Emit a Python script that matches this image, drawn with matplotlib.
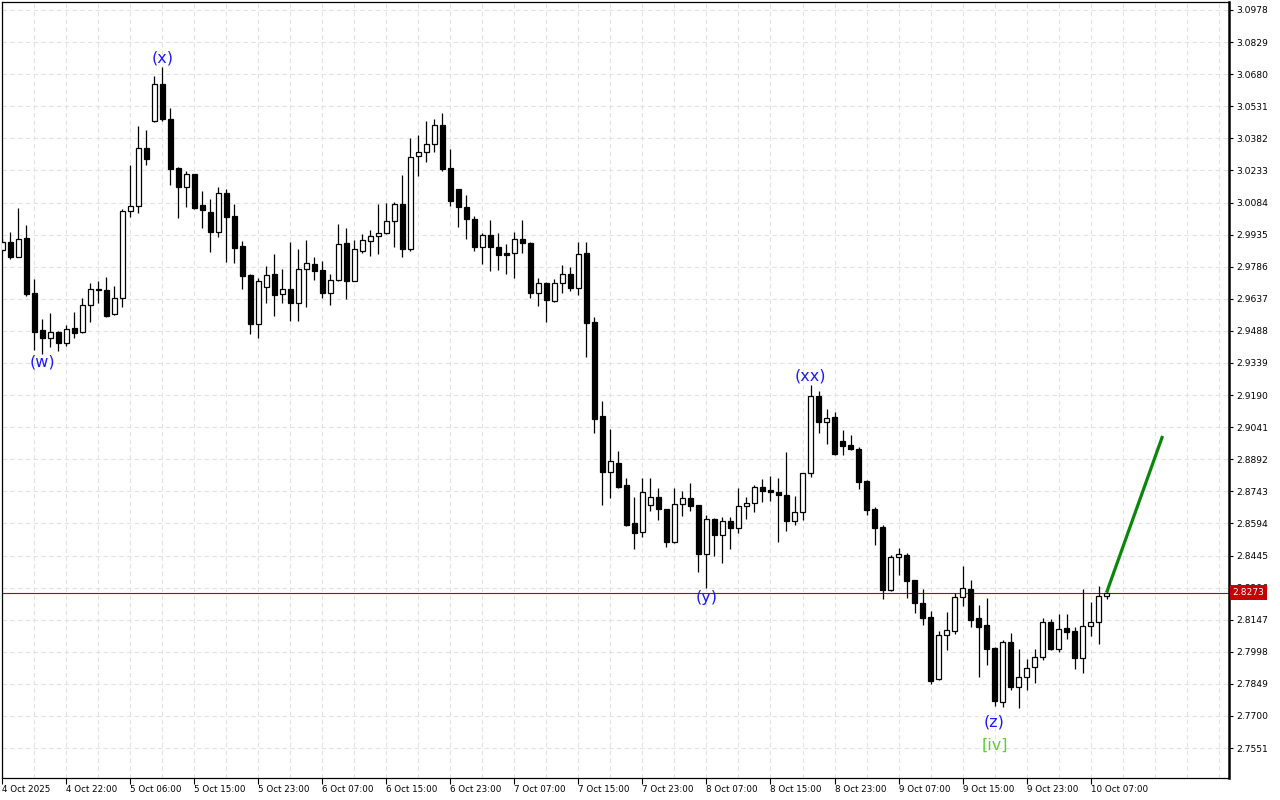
import numpy as np
import matplotlib
matplotlib.use('Agg')
import matplotlib.pyplot as plt
import matplotlib.transforms as mtransforms

# Harga per jam (open, high, low, close)
opens = [2.9864, 2.9899, 2.9832, 2.9918, 2.9663, 2.9491, 2.9454, 2.9481, 2.9430, 2.9501,
         2.9481, 2.9607, 2.9684, 2.9678, 2.9565, 2.9639, 3.0043, 3.0068, 3.0336, 3.0464,
         3.0633, 3.0471, 3.0244, 3.0155, 3.0215, 3.0071, 3.0039, 2.9949, 3.0127, 3.0022,
         2.9882, 2.9748, 2.9520, 2.9690, 2.9752, 2.9658, 2.9681, 2.9616, 2.9774, 2.9797,
         2.9769, 2.9665, 2.9723, 2.9895, 2.9721, 2.9860, 2.9904, 2.9927, 2.9941, 2.9997,
         3.0076, 2.9867, 3.0299, 3.0317, 3.0354, 3.0443, 3.0243, 3.0145, 3.0063, 3.0008,
         2.9879, 2.9933, 2.9878, 2.9850, 2.9848, 2.9913, 2.9895, 2.9665, 2.9710, 2.9628,
         2.9709, 2.9751, 2.9686, 2.9848, 2.9528, 2.9091, 2.8834, 2.8873, 2.8771, 2.8595,
         2.8556, 2.8678, 2.8717, 2.8660, 2.8509, 2.8683, 2.8711, 2.8678, 2.8453, 2.8613,
         2.8542, 2.8605, 2.8571, 2.8673, 2.8687, 2.8762, 2.8749, 2.8740, 2.8726, 2.8607,
         2.8648, 2.8827, 2.9186, 2.9066, 2.9087, 2.8977, 2.8958, 2.8940, 2.8791, 2.8661,
         2.8576, 2.8285, 2.8438, 2.8447, 2.8331, 2.8226, 2.8158, 2.7870, 2.8077, 2.8096,
         2.8251, 2.8290, 2.8156, 2.8122, 2.8016, 2.7766, 2.8043, 2.7836, 2.7879, 2.7929,
         2.7975, 2.8135, 2.8012, 2.8107, 2.8093, 2.7968, 2.8116, 2.8135, 2.8256]
highs = [2.9919, 2.9946, 3.0057, 2.9978, 2.9728, 2.9542, 2.9570, 2.9488, 2.9514, 2.9576,
         2.9642, 2.9709, 2.9720, 2.9737, 2.9695, 3.0054, 3.0258, 3.0439, 3.0421, 3.0672,
         3.0712, 3.0522, 3.0250, 3.0230, 3.0218, 3.0139, 3.0099, 3.0156, 3.0145, 3.0077,
         2.9905, 2.9750, 2.9734, 2.9789, 2.9845, 2.9775, 2.9899, 2.9868, 2.9910, 2.9831,
         2.9813, 2.9752, 2.9984, 2.9966, 2.9910, 2.9937, 2.9955, 3.0077, 3.0082, 3.0086,
         3.0212, 3.0382, 3.0398, 3.0463, 3.0472, 3.0500, 3.0333, 3.0147, 3.0118, 3.0020,
         2.9943, 3.0003, 2.9943, 2.9891, 2.9947, 3.0003, 2.9899, 2.9732, 2.9714, 2.9728,
         2.9794, 2.9783, 2.9899, 2.9899, 2.9551, 2.9162, 2.9032, 2.8930, 2.8804, 2.8717,
         2.8804, 2.8804, 2.8757, 2.8662, 2.8757, 2.8746, 2.8782, 2.8680, 2.8634, 2.8618,
         2.8624, 2.8622, 2.8757, 2.8718, 2.8772, 2.8800, 2.8814, 2.8804, 2.8926, 2.8721,
         2.8829, 2.9237, 2.9210, 2.9124, 2.9110, 2.9028, 2.9005, 2.8947, 2.8796, 2.8672,
         2.8588, 2.8447, 2.8480, 2.8458, 2.8333, 2.8288, 2.8187, 2.8096, 2.8181, 2.8272,
         2.8396, 2.8331, 2.8215, 2.8246, 2.8018, 2.8051, 2.8087, 2.8011, 2.7964, 2.8010,
         2.8153, 2.8149, 2.8173, 2.8173, 2.8112, 2.8288, 2.8228, 2.8303, 2.8285]
lows = [2.9854, 2.9820, 2.9830, 2.9651, 2.9399, 2.9381, 2.9415, 2.9396, 2.9418, 2.9456,
        2.9479, 2.9531, 2.9619, 2.9551, 2.9560, 2.9600, 3.0018, 3.0037, 3.0260, 3.0459,
        3.0464, 3.0165, 3.0014, 3.0062, 3.0053, 2.9967, 2.9853, 2.9925, 2.9809, 2.9805,
        2.9681, 2.9474, 2.9456, 2.9619, 2.9557, 2.9619, 2.9535, 2.9535, 2.9600, 2.9724,
        2.9642, 2.9610, 2.9721, 2.9638, 2.9719, 2.9851, 2.9837, 2.9846, 2.9939, 2.9879,
        2.9830, 2.9860, 3.0209, 3.0274, 3.0320, 3.0229, 3.0069, 2.9972, 2.9916, 2.9860,
        2.9799, 2.9768, 2.9772, 2.9754, 2.9735, 2.9851, 2.9642, 2.9604, 2.9531, 2.9624,
        2.9665, 2.9675, 2.9655, 2.9368, 2.9015, 2.8680, 2.8713, 2.8760, 2.8584, 2.8474,
        2.8532, 2.8653, 2.8610, 2.8486, 2.8505, 2.8628, 2.8653, 2.8370, 2.8293, 2.8443,
        2.8412, 2.8474, 2.8551, 2.8613, 2.8648, 2.8695, 2.8698, 2.8509, 2.8561, 2.8588,
        2.8610, 2.8808, 2.9015, 2.8963, 2.8912, 2.8912, 2.8936, 2.8754, 2.8633, 2.8494,
        2.8242, 2.8281, 2.8355, 2.8246, 2.8179, 2.8122, 2.7848, 2.7868, 2.8006, 2.8081,
        2.8211, 2.8112, 2.7882, 2.7937, 2.7748, 2.7740, 2.7821, 2.7735, 2.7821, 2.7853,
        2.7960, 2.8008, 2.7998, 2.8056, 2.7917, 2.7898, 2.8073, 2.8033, 2.8244]
closes = [2.9901, 2.9830, 2.9916, 2.9659, 2.9484, 2.9456, 2.9481, 2.9430, 2.9495, 2.9480,
          2.9607, 2.9681, 2.9677, 2.9557, 2.9639, 3.0043, 3.0068, 3.0336, 3.0285, 3.0633,
          3.0471, 3.0241, 3.0155, 3.0215, 3.0060, 3.0048, 2.9949, 3.0127, 3.0018, 2.9874,
          2.9744, 2.9520, 2.9720, 2.9746, 2.9656, 2.9681, 2.9616, 2.9774, 2.9802, 2.9768,
          2.9665, 2.9723, 2.9890, 2.9721, 2.9867, 2.9909, 2.9927, 2.9941, 2.9997, 3.0076,
          2.9867, 3.0297, 3.0317, 3.0354, 3.0443, 3.0241, 3.0093, 3.0062, 3.0006, 2.9879,
          2.9932, 2.9876, 2.9842, 2.9842, 2.9913, 2.9898, 2.9665, 2.9709, 2.9633, 2.9709,
          2.9751, 2.9689, 2.9844, 2.9526, 2.9080, 2.8834, 2.8884, 2.8763, 2.8587, 2.8551,
          2.8741, 2.8717, 2.8659, 2.8509, 2.8683, 2.8711, 2.8676, 2.8453, 2.8613, 2.8542,
          2.8605, 2.8571, 2.8673, 2.8687, 2.8762, 2.8746, 2.8739, 2.8726, 2.8607, 2.8648,
          2.8827, 2.9186, 2.9066, 2.9082, 2.8916, 2.8955, 2.8938, 2.8788, 2.8658, 2.8574,
          2.8285, 2.8438, 2.8452, 2.8328, 2.8226, 2.8156, 2.7864, 2.8075, 2.8098, 2.8251,
          2.8293, 2.8146, 2.8114, 2.8012, 2.7771, 2.8043, 2.7836, 2.7879, 2.7921, 2.7972,
          2.8135, 2.8012, 2.8105, 2.8091, 2.7968, 2.8119, 2.8135, 2.8256, 2.8273]

# Label waktu (setiap 8 bar) dan label harga di kanan
time_labels = ['4 Oct 2025', '4 Oct 22:00', '5 Oct 06:00', '5 Oct 15:00', '5 Oct 23:00',
               '6 Oct 07:00', '6 Oct 15:00', '6 Oct 23:00', '7 Oct 07:00', '7 Oct 15:00',
               '7 Oct 23:00', '8 Oct 07:00', '8 Oct 15:00', '8 Oct 23:00', '9 Oct 07:00',
               '9 Oct 15:00', '9 Oct 23:00', '10 Oct 07:00']
price_levels = [3.0978, 3.0829, 3.0680, 3.0531, 3.0382, 3.0233, 3.0084, 2.9935, 2.9786,
                2.9637, 2.9488, 2.9339, 2.9190, 2.9041, 2.8892, 2.8743, 2.8594, 2.8445,
                2.8296, 2.8147, 2.7998, 2.7849, 2.7700, 2.7551]
last_price = 2.8273

# Label gelombang: (teks, bar, harga, warna)
wave_labels = [('(w)', 5, 2.9344, '#1a1aff'), ('(x)', 20, 3.0755, '#1a1aff'),
               ('(y)', 88, 2.8248, '#1a1aff'), ('(xx)', 101, 2.9279, '#1a1aff'),
               ('(z)', 124, 2.7672, '#1a1aff'), ('[iv]', 124, 2.7565, '#5fcf2f')]
# Proyeksi garis hijau
proj_x = [138, 145]
proj_y = [2.8273, 2.9000]

o = np.array(opens)
h = np.array(highs)
l = np.array(lows)
c = np.array(closes)
x = np.arange(len(o))

fig = plt.figure(figsize=(12.8, 8), dpi=100)
ax = fig.add_axes([2 / 1280, 22 / 800, 1227 / 1280, 776 / 800])

# Grid putus-putus
for xv in np.arange(0, 154, 4):
    ax.axvline(xv, color='#e3e3e3', lw=0.8, ls=(0, (4, 3)), zorder=0)
for pv in price_levels:
    ax.axhline(pv, color='#e3e3e3', lw=0.8, ls=(0, (4, 3)), zorder=0)

# Candlestick
up = c >= o
ax.vlines(x, l, h, color='black', lw=0.9, zorder=2)
ax.bar(x, np.maximum(np.abs(c - o), 0.00005), bottom=np.minimum(o, c), width=0.62,
       color=np.where(up, 'white', 'black'), edgecolor='black', linewidth=0.9, zorder=3)

# Garis harga terakhir
ax.axhline(last_price, color='#9b1010', lw=0.8, zorder=1)

# Garis proyeksi
ax.plot(proj_x, proj_y, color='#0a870a', lw=2.3, zorder=4, solid_capstyle='butt')

for txt, bx, py, col in wave_labels:
    ax.text(bx, py, txt, color=col, fontsize=11.5, ha='center', va='center', zorder=5)

ax.set_xlim(-0.04, 153.3)
ax.set_ylim(2.7412, 3.1015)

# Sumbu kanan
ax.yaxis.tick_right()
ax.set_yticks(price_levels)
ax.set_yticklabels(['%.4f' % v for v in price_levels], fontsize=6.6)
ax.tick_params(axis='y', length=3, width=0.8, pad=2)

ax.set_xticks(np.arange(0, 8 * len(time_labels), 8))
ax.set_xticklabels(time_labels, fontsize=6.3, ha='left')
ax.tick_params(axis='x', length=4, width=0.8, pad=1)

for s in ax.spines.values():
    s.set_color('black')
    s.set_linewidth(0.9)
ax.spines['right'].set_linewidth(1.8)

# Kotak harga terakhir
trans = mtransforms.blended_transform_factory(ax.transAxes, ax.transData)
ax.text(1.003, last_price, '2.8273', transform=trans, fontsize=6.6, color='white',
        va='center', ha='left', clip_on=False, zorder=10,
        bbox=dict(boxstyle='square,pad=0.3', fc='#c80000', ec='none'))

fig.savefig('out.png', dpi=100, facecolor='white')
